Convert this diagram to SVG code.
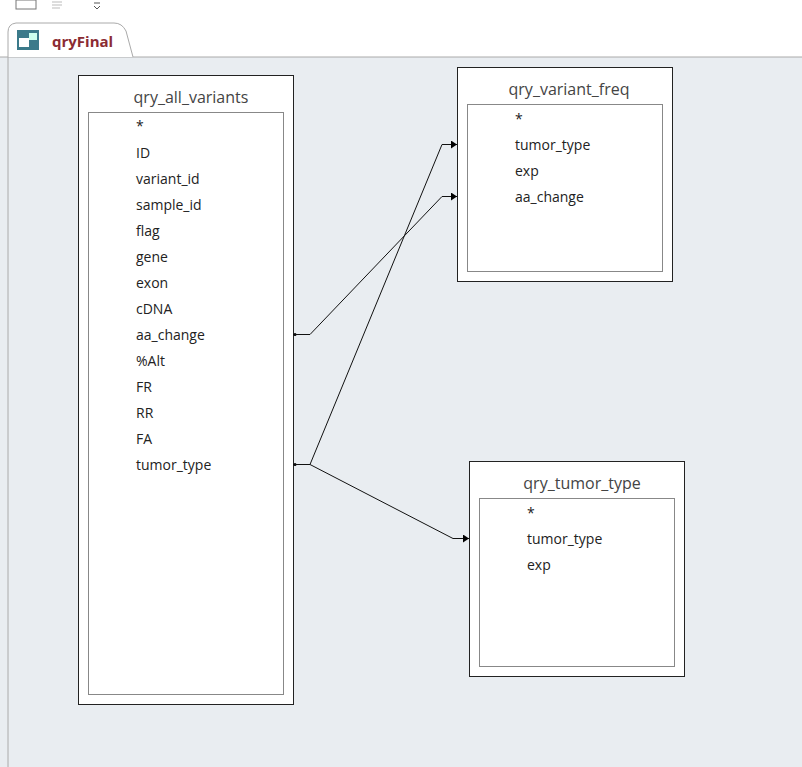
<svg xmlns="http://www.w3.org/2000/svg" width="802" height="767" viewBox="0 0 802 767">
<style>
.box{fill:#fff;stroke:#222;stroke-width:1}
.inner{fill:#fff;stroke:#888;stroke-width:1}
.title{font-family:"Segoe UI","Open Sans","Liberation Sans",sans-serif;font-size:16px;fill:#444;text-anchor:middle}
.f{font-family:"Segoe UI","Open Sans","Liberation Sans",sans-serif;font-size:14px;fill:#222}
.c{fill:none;stroke:#111;stroke-width:1}
</style>
<defs><marker id="a" markerWidth="6" markerHeight="8" refX="6" refY="4" orient="auto" markerUnits="userSpaceOnUse"><path d="M0,0L6,4L0,8z" fill="#000"/></marker></defs>
<rect width="802" height="767" fill="#fff"/>
<rect x="0" y="57" width="802" height="710" fill="#e9edf1"/>
<line x1="8" y1="57" x2="8" y2="767" stroke="#aaa"/>
<line x1="0" y1="57" x2="802" y2="57" stroke="#aaa"/>
<g id="toolbar" fill="none" stroke="#777">
<rect x="16" y="0" width="20" height="9"/>
<path d="M52 2h10M52 5h10M52 8h8" stroke="#bbb"/>
<path d="M94 3h6M94 6l3 3l3-3" stroke="#555"/>
</g>
<g id="tab">
<path d="M8 57V32q0-8 8-9h98q8 0 12 8l7 26" fill="#fff" stroke="#aaa"/>
<rect x="17" y="30" width="22" height="20" fill="#3b7a8a"/>
<rect x="19" y="38" width="10" height="9" fill="#fff"/>
<rect x="29" y="33" width="8" height="7" fill="#cfe"/>
<text x="52" y="47" font-family="'Segoe UI','Open Sans','Liberation Sans',sans-serif" font-size="15" font-weight="bold" fill="#8b2b33">qryFinal</text>
</g>
<g id="qry_all_variants">
<rect class="box" x="78.500" y="75.500" width="215" height="629"/>
<rect class="inner" x="88.500" y="112.500" width="195" height="582"/>
<text class="title" x="191" y="103">qry_all_variants</text>
<text class="f" x="136" y="131">*</text>
<text class="f" x="136" y="158">ID</text>
<text class="f" x="136" y="184">variant_id</text>
<text class="f" x="136" y="210">sample_id</text>
<text class="f" x="136" y="236">flag</text>
<text class="f" x="136" y="262">gene</text>
<text class="f" x="136" y="288">exon</text>
<text class="f" x="136" y="314">cDNA</text>
<text class="f" x="136" y="340">aa_change</text>
<text class="f" x="136" y="366">%Alt</text>
<text class="f" x="136" y="392">FR</text>
<text class="f" x="136" y="418">RR</text>
<text class="f" x="136" y="444">FA</text>
<text class="f" x="136" y="470">tumor_type</text>
</g>
<g id="qry_variant_freq">
<rect class="box" x="457.500" y="67.500" width="215" height="214"/>
<rect class="inner" x="467.500" y="104.500" width="195" height="167"/>
<text class="title" x="569" y="95">qry_variant_freq</text>
<text class="f" x="515" y="124">*</text>
<text class="f" x="515" y="150">tumor_type</text>
<text class="f" x="515" y="176">exp</text>
<text class="f" x="515" y="202">aa_change</text>
</g>
<g id="qry_tumor_type">
<rect class="box" x="469.500" y="461.500" width="215" height="215"/>
<rect class="inner" x="479.500" y="498.500" width="195" height="168"/>
<text class="title" x="582" y="489">qry_tumor_type</text>
<text class="f" x="527" y="518">*</text>
<text class="f" x="527" y="544">tumor_type</text>
<text class="f" x="527" y="570">exp</text>
</g>
<g id="connectors">
<circle cx="295" cy="334.500" r="1.5"/>
<circle cx="295" cy="464.500" r="1.5"/>
<path class="c" d="M294 334.500H310L442 196.500H457" marker-end="url(#a)"/>
<path class="c" d="M294 464.500H310L442 144.500H457" marker-end="url(#a)"/>
<path class="c" d="M310 464.500L453 538.500H469" marker-end="url(#a)"/>
</g>
</svg>
